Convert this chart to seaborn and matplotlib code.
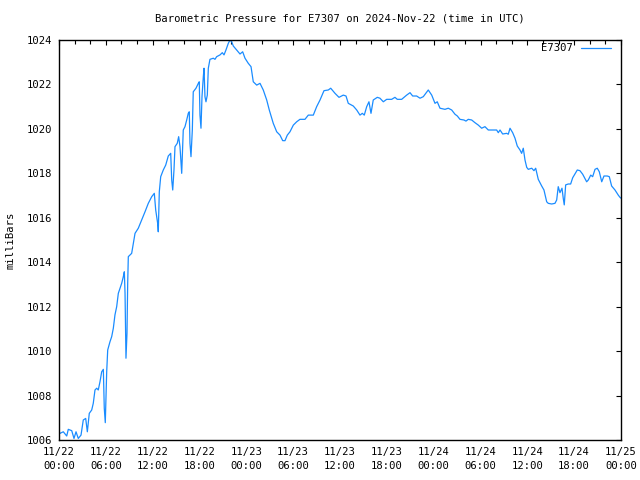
import matplotlib
matplotlib.use("Agg")
import matplotlib.pyplot as plt
import seaborn as sns
import pandas as pd
from matplotlib.ticker import FixedLocator, MultipleLocator, NullLocator

# ---- data (hours since 2024-11-22 00:00 UTC, pressure in milliBars) ----
hours = [
    0.0, 0.13, 0.55, 0.99, 1.19, 1.63, 1.92, 2.18, 2.47, 2.82, 3.11, 3.42, 3.63, 3.88, 4.19,
    4.39, 4.61, 4.83, 5.03, 5.25, 5.47, 5.68, 5.8, 5.93, 6.11, 6.24, 6.53, 6.75, 6.96, 7.17,
    7.39, 7.6, 8.03, 8.24, 8.37, 8.46, 8.58, 8.71, 8.8, 8.88, 9.31,
    9.74, 10.16, 10.59, 11.02, 11.44, 11.88, 12.21, 12.39, 12.64, 12.72, 12.85, 13.03, 13.36,
    13.67, 14.0, 14.31, 14.44, 14.57, 14.73, 14.86, 15.15, 15.33, 15.5, 15.63, 15.72, 15.85,
    15.92, 16.14, 16.36, 16.56, 16.69, 16.78, 16.91, 17.08, 17.2, 17.55, 17.85, 17.97, 18.06,
    18.19, 18.32, 18.49, 18.58, 18.7, 18.83, 19.0, 19.13, 19.34, 19.77, 19.98, 20.2, 20.63,
    20.92, 21.14, 21.39, 21.69, 21.91, 22.12, 22.33, 22.76, 23.19, 23.53, 23.83, 24.25, 24.6,
    24.89, 25.33, 25.75, 26.17, 26.61, 26.94,
    27.45, 27.89, 28.31, 28.66, 28.95, 29.25, 29.59, 30.02, 30.45, 30.87, 31.51, 31.94, 32.58,
    33.01, 33.44, 33.95, 34.5, 34.81, 35.36, 35.87, 36.42, 36.77, 37.06, 37.7, 38.14, 38.56,
    38.86, 39.11, 39.42, 39.71, 39.97, 40.26, 40.78, 41.12, 41.55, 41.98, 42.62, 43.04, 43.34,
    43.9, 44.54, 44.97, 45.31, 45.82, 46.25, 46.67, 47.31, 47.75, 48.17, 48.46, 48.81, 49.45,
    49.87, 50.31,
    50.73, 51.03, 51.37, 51.88, 52.14, 52.43, 52.87, 53.29, 53.72, 54.15, 54.57, 55.0, 55.64,
    56.07, 56.28, 56.5, 56.84, 57.35, 57.56, 57.78, 58.12, 58.42, 58.71, 59.06, 59.27, 59.48,
    59.7, 59.92, 60.12, 60.56, 60.85, 61.07, 61.4, 61.84, 62.13, 62.48, 62.68, 63.12, 63.54,
    63.76, 63.96, 64.18, 64.44, 64.6, 64.73, 64.91, 65.24, 65.55, 65.81, 66.1, 66.4, 66.74,
    67.09, 67.6, 67.81, 68.12, 68.37, 68.67, 68.96, 69.22, 69.53, 69.82, 70.24, 70.5, 70.8,
    71.23, 71.65, 71.87, 72.0,
]
pressure = [
    1006.30, 1006.30, 1006.37, 1006.18, 1006.48, 1006.42, 1006.07, 1006.37, 1006.07, 1006.22,
    1006.90, 1006.97, 1006.37, 1007.20, 1007.35, 1007.65, 1008.25, 1008.33, 1008.25, 1008.62,
    1009.07, 1009.18, 1007.43, 1006.78, 1009.07, 1010.05, 1010.42, 1010.65, 1011.03, 1011.63,
    1012.00, 1012.60, 1013.05, 1013.35, 1013.57, 1012.60, 1009.68, 1010.80, 1013.05, 1014.25,
    1014.40,
    1015.30, 1015.53, 1015.90, 1016.27, 1016.65, 1016.95, 1017.10, 1016.35, 1015.75, 1015.37,
    1017.17, 1017.85, 1018.15, 1018.37, 1018.78, 1018.90, 1017.70, 1017.25, 1018.15, 1019.20,
    1019.35, 1019.65, 1019.20, 1018.45, 1018.00, 1019.27, 1019.95, 1020.10, 1020.40, 1020.70,
    1020.77, 1019.35, 1018.75, 1019.95, 1021.67, 1021.83, 1022.05, 1022.12, 1020.62, 1020.03,
    1021.45, 1022.35, 1022.73, 1021.45, 1021.22, 1021.52, 1022.73, 1023.13, 1023.18, 1023.13,
    1023.25, 1023.33, 1023.43, 1023.33, 1023.55, 1023.85, 1024.00, 1023.92, 1023.73, 1023.55,
    1023.37, 1023.47, 1023.18, 1022.95, 1022.80, 1022.12, 1021.97, 1022.05, 1021.75, 1021.30,
    1020.85,
    1020.25, 1019.87, 1019.72, 1019.47, 1019.47, 1019.72, 1019.87, 1020.17, 1020.32, 1020.43,
    1020.43, 1020.62, 1020.62, 1021.00, 1021.30, 1021.72, 1021.75, 1021.83, 1021.60, 1021.42,
    1021.52, 1021.48, 1021.15, 1021.03, 1020.85, 1020.62, 1020.70, 1020.62, 1021.00, 1021.22,
    1020.70, 1021.30, 1021.42, 1021.38, 1021.22, 1021.33, 1021.33, 1021.42, 1021.33, 1021.33,
    1021.52, 1021.63, 1021.48, 1021.48, 1021.38, 1021.45, 1021.75, 1021.52, 1021.15, 1021.22,
    1020.93, 1020.88, 1020.93, 1020.85,
    1020.66, 1020.58, 1020.43, 1020.40, 1020.35, 1020.43, 1020.40, 1020.28, 1020.17, 1020.03,
    1020.10, 1019.95, 1019.95, 1019.95, 1019.83, 1019.95, 1019.77, 1019.80, 1019.76, 1020.03,
    1019.83, 1019.58, 1019.23, 1019.05, 1018.90, 1019.13, 1018.60, 1018.27, 1018.18, 1018.23,
    1018.12, 1018.23, 1017.73, 1017.43, 1017.25, 1016.72, 1016.65, 1016.62, 1016.65, 1016.80,
    1017.40, 1017.13, 1017.33, 1016.88, 1016.58, 1017.48, 1017.52, 1017.52, 1017.80, 1017.97,
    1018.15, 1018.12, 1017.96, 1017.62, 1017.70, 1017.92, 1017.85, 1018.18, 1018.23, 1018.07,
    1017.62, 1017.88, 1017.88, 1017.85, 1017.43, 1017.25, 1017.02, 1016.92, 1016.88,
]
station = "E7307"
x_tick_hours = [0, 6, 12, 18, 24, 30, 36, 42, 48, 54, 60, 66, 72]
x_tick_labels = [
    "11/22\n00:00", "11/22\n06:00", "11/22\n12:00", "11/22\n18:00",
    "11/23\n00:00", "11/23\n06:00", "11/23\n12:00", "11/23\n18:00",
    "11/24\n00:00", "11/24\n06:00", "11/24\n12:00", "11/24\n18:00",
    "11/25\n00:00",
]
y_ticks = [1006, 1008, 1010, 1012, 1014, 1016, 1018, 1020, 1022, 1024]
title = "Barometric Pressure for E7307 on 2024-Nov-22 (time in UTC)"
y_label = "milliBars"

df = pd.DataFrame({"hour": hours, "mb": pressure, "station": station})

sns.set_style("white")
plt.rcParams["font.family"] = ["DejaVu Sans Mono"]
plt.rcParams["text.color"] = "black"
plt.rcParams["axes.labelcolor"] = "black"
plt.rcParams["xtick.color"] = "black"
plt.rcParams["ytick.color"] = "black"
FS = 7.6

fig = plt.figure(figsize=(6.4, 4.8), dpi=100)
ax = fig.add_axes([59 / 640, 40 / 480, 562 / 640, 400 / 480])

sns.lineplot(data=df, x="hour", y="mb", hue="station", palette=["#1a8cff"],
             linewidth=0.9, ax=ax, sort=False, estimator=None)

ax.set_xlim(0, 72)
ax.set_ylim(1006, 1024)
ax.xaxis.set_major_locator(FixedLocator(x_tick_hours))
ax.set_xticklabels(x_tick_labels, fontsize=FS, linespacing=1.5, color="black")
ax.xaxis.set_minor_locator(MultipleLocator(2))
ax.yaxis.set_major_locator(FixedLocator(y_ticks))
ax.yaxis.set_minor_locator(NullLocator())
ax.set_yticklabels([str(v) for v in y_ticks], fontsize=FS, color="black")

for s in ax.spines.values():
    s.set_color("black")
    s.set_linewidth(1.0)

ax.tick_params(axis="both", which="major", direction="in", length=3.5, width=0.8,
               top=True, right=True, color="black", labelcolor="black")
ax.tick_params(axis="both", which="minor", direction="in", length=3.0, width=0.8,
               top=True, right=True, color="black")
ax.tick_params(axis="x", which="major", pad=5)
ax.tick_params(axis="y", which="major", pad=5)

ax.set_xlabel("")
ax.set_ylabel(y_label, fontsize=FS, color="black")
ax.yaxis.set_label_coords(-0.078, 0.5)
ax.set_title(title, fontsize=FS, pad=13, color="black")

leg = ax.legend(loc="upper right", bbox_to_anchor=(0.982, 0.992), frameon=False,
                markerfirst=False, handlelength=2.8, handletextpad=0.8,
                borderaxespad=0, borderpad=0, fontsize=FS, labelcolor="black")
for line in leg.get_lines():
    line.set_linewidth(0.9)

fig.savefig("out.png", dpi=100)
